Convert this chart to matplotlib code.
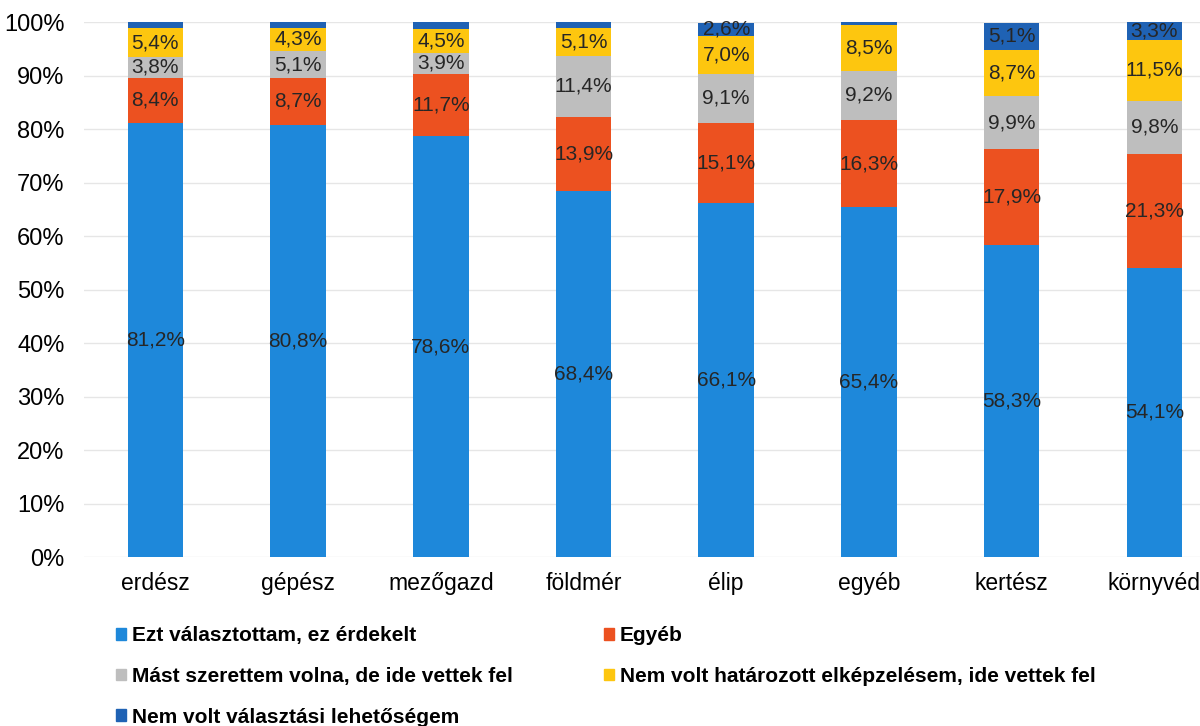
import numpy as np
import matplotlib.pyplot as plt
from matplotlib.patches import Patch

categories = ['erdész', 'gépész', 'mezőgazd', 'földmér', 'élip', 'egyéb', 'kertész', 'környvéd']
series_names = ['Ezt választottam, ez érdekelt',
                'Egyéb',
                'Mást szerettem volna, de ide vettek fel',
                'Nem volt határozott elképzelésem, ide vettek fel',
                'Nem volt választási lehetőségem']
ezt = [81.2, 80.8, 78.6, 68.4, 66.1, 65.4, 58.3, 54.1]
egyeb = [8.4, 8.7, 11.7, 13.9, 15.1, 16.3, 17.9, 21.3]
mast = [3.8, 5.1, 3.9, 11.4, 9.1, 9.2, 9.9, 9.8]
nem_hat = [5.4, 4.3, 4.5, 5.1, 7.0, 8.5, 8.7, 11.5]
nem_val = [1.2, 1.1, 1.3, 1.2, 2.6, 0.6, 5.1, 3.3]
colors = ['#1E88DA', '#EC5120', '#BEBEBE', '#FDC60F', '#1F62B4']

plt.rcParams['font.family'] = ['Liberation Sans', 'DejaVu Sans']

fig = plt.figure(figsize=[12, 7.26], dpi=100)
ax = fig.add_axes([84/1200, 1-557/726, 1116/1200, 535/726])

x = np.arange(len(categories))
data = [ezt, egyeb, mast, nem_hat, nem_val]
bottom = np.zeros(len(categories))
for vals, col in zip(data, colors):
    vals = np.array(vals)
    ax.bar(x, vals, 0.39, bottom=bottom, color=col, zorder=2)
    for xi, b, v in zip(x, bottom, vals):
        if v >= 2:
            ax.text(xi, b + v/2, f'{v:.1f}%'.replace('.', ','), ha='center', va='center',
                    fontsize=15, color='#262626', zorder=3)
    bottom += vals

ax.set_xlim(-0.5, 7.5 - 0.18)
ax.set_ylim(0, 100)
ax.set_yticks(np.arange(0, 101, 10))
ax.set_yticklabels([f'{v}%' for v in range(0, 101, 10)], fontsize=17)
ax.set_xticks(x)
ax.set_xticklabels(categories, fontsize=16.5)
ax.tick_params(axis='x', length=0, pad=11)
ax.tick_params(axis='y', length=0, pad=14)
ax.grid(axis='y', color='#E6E6E6', lw=1, zorder=0)
for s in ax.spines.values():
    s.set_visible(False)

handles = [Patch(color=c) for c in colors]
leg_prop = {'weight': 'bold', 'size': 15}
leg_kw = dict(loc='upper left', frameon=False, prop=leg_prop, handlelength=0.5,
              handleheight=0.5, handletextpad=0.25, labelspacing=1.05,
              borderaxespad=0, borderpad=0)
fig.legend([handles[i] for i in [0, 2, 4]], [series_names[i] for i in [0, 2, 4]],
           bbox_to_anchor=(116/1200, 1-626/726), **leg_kw)
fig.legend([handles[i] for i in [1, 3]], [series_names[i] for i in [1, 3]],
           bbox_to_anchor=(604/1200, 1-626/726), **leg_kw)

fig.savefig('out.png')
